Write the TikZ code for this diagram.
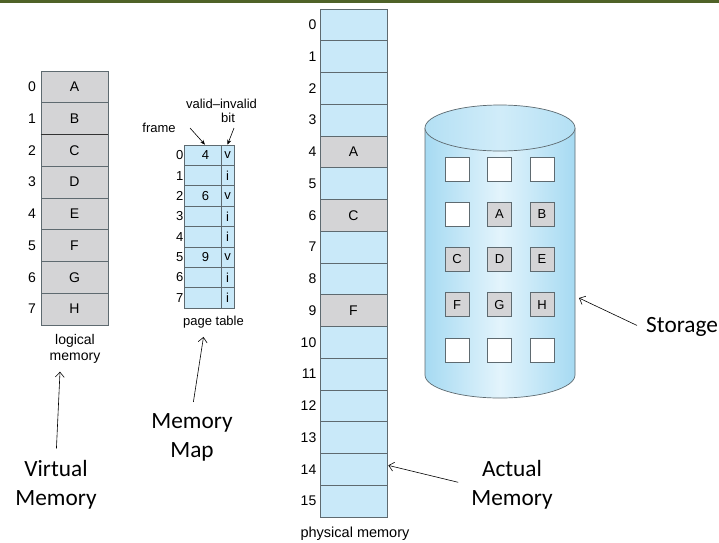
\documentclass[tikz,border=0pt]{standalone}
\usepackage{fontspec}
\setmainfont{Liberation Sans}
\newfontfamily\labelfont{Carlito}
\usetikzlibrary{arrows.meta}
\definecolor{cellblue}{HTML}{C9E9F9}
\definecolor{cellgray}{HTML}{D4D4D6}
\definecolor{rule}{HTML}{5E6A70}
\definecolor{olivebar}{HTML}{4F6228}
\definecolor{cylside}{HTML}{A6DAF2}
\definecolor{cylmid}{HTML}{E3F4FC}
\begin{document}
\begin{tikzpicture}[x=1pt,y=-1pt,
  cellbase/.style={draw=rule, line width=0.6pt, inner sep=0pt},
  lcell/.style={cellbase, fill=cellgray, minimum width=67pt, minimum height=31.75pt,
    font=\fontsize{14}{16}\selectfont},
  pcell/.style={cellbase, fill=cellblue, minimum width=67pt, minimum height=31.75pt,
    font=\fontsize{14}{16}\selectfont},
  tcell/.style={cellbase, fill=cellblue, minimum height=20.375pt,
    font=\fontsize{13}{15}\selectfont},
  sq/.style={cellbase, minimum size=24pt, font=\fontsize{13}{15}\selectfont},
  idx/.style={inner sep=0pt, anchor=east, font=\fontsize{14}{16}\selectfont},
  tidx/.style={inner sep=0pt, anchor=east, font=\fontsize{13}{15}\selectfont},
  caption/.style={inner sep=0pt, align=center, font=\fontsize{14}{16}\selectfont},
  small/.style={inner sep=0pt, anchor=base, font=\fontsize{13}{15}\selectfont},
  bigtext/.style={inner sep=2pt, align=center, font=\labelfont\fontsize{23.3}{29}\selectfont},
  pointer/.style={line width=0.6pt, -{Straight Barb[length=5pt,width=9pt]}},
  smallptr/.style={line width=0.6pt, -{Stealth[length=5pt,width=4pt]}}
]
\useasboundingbox (0,0) rectangle (719,542);
\fill[white] (0,0) rectangle (719,542);
% title bar
\fill[olivebar] (0,0) rectangle (719,3);

% logical memory
\foreach \t [count=\i from 0] in {A,B,C,D,E,F,G,H} {
  \node[lcell] (l\i) at (74.5, 71+31.75*\i+15.875) {\t};
  \node[idx] (ln\i) at (36, 71+31.75*\i+15.875) {\i};
}
\draw[black!80, line width=0.7pt] (l1.south west) -- (l1.south east);
\node[caption] (lm) at (75, 349) {logical\\memory};

% page table
\foreach \i/\f/\b in {0/4/v,1//i,2/6/v,3//i,4//i,5/9/v,6//i,7//i} {
  \node[tcell, minimum width=37pt] (f\i) at (202.5, 145+20.375*\i+10.1875) {\hspace{6pt}\f};
  \node[tcell, minimum width=13pt] (b\i) at (227.5, 145+20.375*\i+10.1875) {\b};
  \node[tidx] (tn\i) at (183.5, 145+20.375*\i+10.1875) {\i};
}
\node[small] (fr) at (159,132) {frame};
\node[small] (vi) at (221.5,108) {valid--invalid};
\node[small] (bt) at (228,122) {bit};
\node[small] (pt) at (213.5,325) {page table};
\coordinate (frametail) at (190,128);
\coordinate (bittail) at (234,128);
\draw[smallptr] (frametail) -- ([xshift=2.5pt]f0.north);
\draw[smallptr] (bittail) -- (b0.north);

% physical memory
\foreach \i in {0,1,2,3,5,7,8,10,11,12,13,14,15} {
  \node[pcell] (p\i) at (353.5, 9+31.75*\i+15.875) {};
}
\foreach \i/\t in {4/A,6/C,9/F} {
  \node[pcell, fill=cellgray] (p\i) at (353.5, 9+31.75*\i+15.875) {\t};
}
\foreach \i in {0,...,15} {
  \node[idx] (pn\i) at (316.5, 9+31.75*\i+15.875) {\i};
}
\node[inner sep=0pt, anchor=base, font=\fontsize{14.5}{16}\selectfont] (pm) at (355,537) {physical memory};

% backing store cylinder
\path[left color=cylside, right color=cylside, middle color=cylmid]
  (425,128) -- (425,375) arc[start angle=180, end angle=360, x radius=75pt, y radius=23pt]
  -- (575,128) arc[start angle=0, end angle=180, x radius=75pt, y radius=23pt] -- cycle;
\draw[rule, line width=0.7pt]
  (425,128) -- (425,375) arc[start angle=180, end angle=360, x radius=75pt, y radius=23pt]
  -- (575,128);
\shade[left color=cylside!85, right color=cylside!85, middle color=cylmid!70!cylside]
  (500,128) ellipse[x radius=75pt, y radius=23pt];
\draw[rule, line width=0.7pt] (500,128) ellipse[x radius=75pt, y radius=23pt];
\foreach \c/\r in {0/0,1/0,2/0,0/1,0/4,1/4,2/4} {
  \node[sq, fill=white] (s\c\r) at (457+42.5*\c, 169+45.25*\r) {};
}
\foreach \c/\r/\t in {1/1/A,2/1/B,0/2/C,1/2/D,2/2/E,0/3/F,1/3/G,2/3/H} {
  \node[sq, fill=cellgray] (s\c\r) at (457+42.5*\c, 169+45.25*\r) {\t};
}
\coordinate (store) at (579,298);

% annotations (base anchor sits on the last line)
\node[bigtext, anchor=base] (vm) at (56,505) {Virtual\\Memory};
\draw[pointer, shorten <=9pt] (vm.north) -- ([xshift=-15pt, yshift=-8pt]lm.south);
\node[bigtext, anchor=base] (mm) at (192,457) {Memory\\Map};
\draw[pointer, shorten <=9pt] (mm.north) -- ([xshift=-10pt, yshift=-9pt]pt.south);
\node[bigtext, anchor=base] (am) at (512,505) {Actual\\Memory};
\draw[pointer] ([xshift=-11pt, yshift=2pt]am.west) -- ([xshift=1pt, yshift=4pt]p14.east);
\node[bigtext, anchor=base west, inner sep=0pt] (st) at (646,332) {Storage};
\draw[pointer] ([xshift=-9pt, yshift=1pt]st.west) -- (store);
\end{tikzpicture}
\end{document}
